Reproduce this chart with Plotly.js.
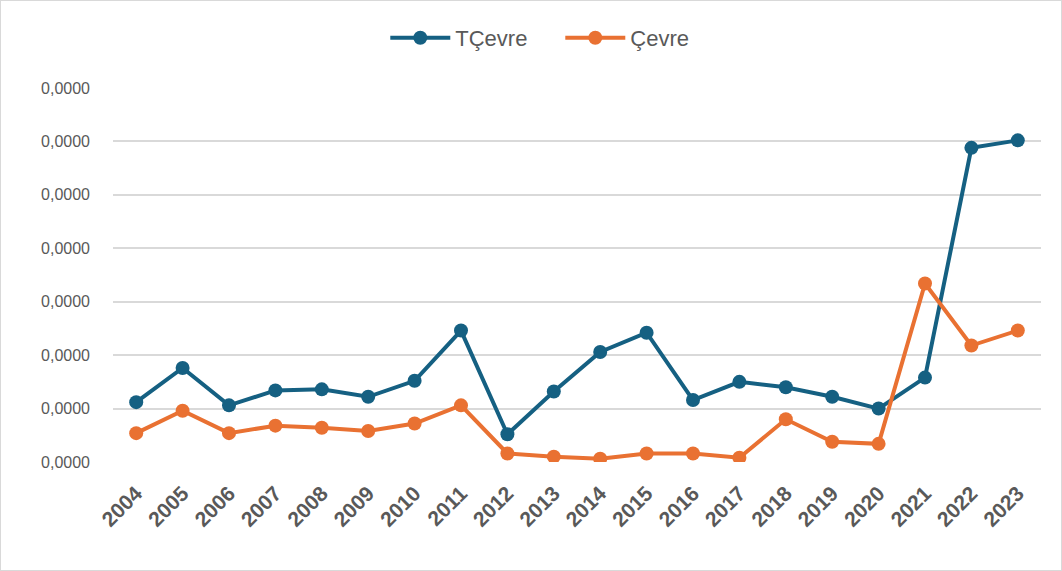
<!DOCTYPE html>
<html>
<head>
<meta charset="utf-8">
<script src="https://cdn.plot.ly/plotly-3.0.1.min.js"></script>
<style>
  html, body { margin: 0; padding: 0; background: #fff; }
  #chart { width: 1060px; height: 569px; border: 1px solid #d9d9d9; }
</style>
</head>
<body>
<div id="chart"></div>
<script>
// Values (all labels round to 0,0000)
const years = ['2004', '2005', '2006', '2007', '2008', '2009', '2010', '2011', '2012', '2013',
               '2014', '2015', '2016', '2017', '2018', '2019', '2020', '2021', '2022', '2023'];
const tcevre = [0.0000056, 0.0000088, 0.0000053, 0.0000067, 0.0000068, 0.0000061, 0.0000076, 0.0000123, 0.0000026, 0.0000066,
                0.0000103, 0.0000121, 0.0000058, 0.0000075, 0.0000070, 0.0000061, 0.0000050, 0.0000079, 0.0000294, 0.0000301];
const cevre = [0.0000027, 0.0000048, 0.0000027, 0.0000034, 0.0000032, 0.0000029, 0.0000036, 0.0000053, 0.0000008, 0.0000005,
               0.0000003, 0.0000008, 0.0000008, 0.0000004, 0.0000040, 0.0000019, 0.0000017, 0.0000167, 0.0000109, 0.0000123];
const yTicks = [0, 0.000005, 0.00001, 0.000015, 0.00002, 0.000025, 0.00003, 0.000035];

const traces = [
    {
        x: years,
        y: tcevre,
        type: 'scatter',
        mode: 'lines+markers',
        name: 'TÇevre',
        line: { color: '#156082', width: 4 },
        marker: { color: '#156082', size: 14 }
    },
    {
        x: years,
        y: cevre,
        type: 'scatter',
        mode: 'lines+markers',
        name: 'Çevre',
        line: { color: '#E97132', width: 4 },
        marker: { color: '#E97132', size: 14 }
    }
];

const layout = {
    width: 1060,
    height: 569,
    separators: ',.',
    font: { family: 'Liberation Sans, Arial, sans-serif', color: '#595959' },
    xaxis: {
        type: 'category',
        range: [-0.5, 19.5],
        automargin: false,
        tickangle: -45,
        tickfont: { size: 21, color: '#595959', weight: 'bold' },
        showgrid: false,
        zeroline: false,
        showline: false,
        ticks: '',
        ticklabelstandoff: 14
    },
    yaxis: {
        range: [0, 0.000035],
        automargin: false,
        tickvals: yTicks,
        tickformat: '.4f',
        tickfont: { size: 16, color: '#595959' },
        gridcolor: '#d9d9d9',
        gridwidth: 1.5,
        zeroline: false,
        showline: false,
        ticks: '',
        ticklabelstandoff: 22
    },
    showlegend: true,
    legend: {
        orientation: 'h',
        x: 0.482,
        xanchor: 'center',
        y: 0.972,
        yref: 'container',
        yanchor: 'top',
        font: { size: 22, color: '#595959' },
        entrywidth: 100,
        itemwidth: 60
    },
    plot_bgcolor: 'white',
    paper_bgcolor: 'white',
    margin: { t: 87, r: 20, b: 108, l: 112 }
};

Plotly.newPlot('chart', traces, layout, { displayModeBar: false });
</script>
</body>
</html>
